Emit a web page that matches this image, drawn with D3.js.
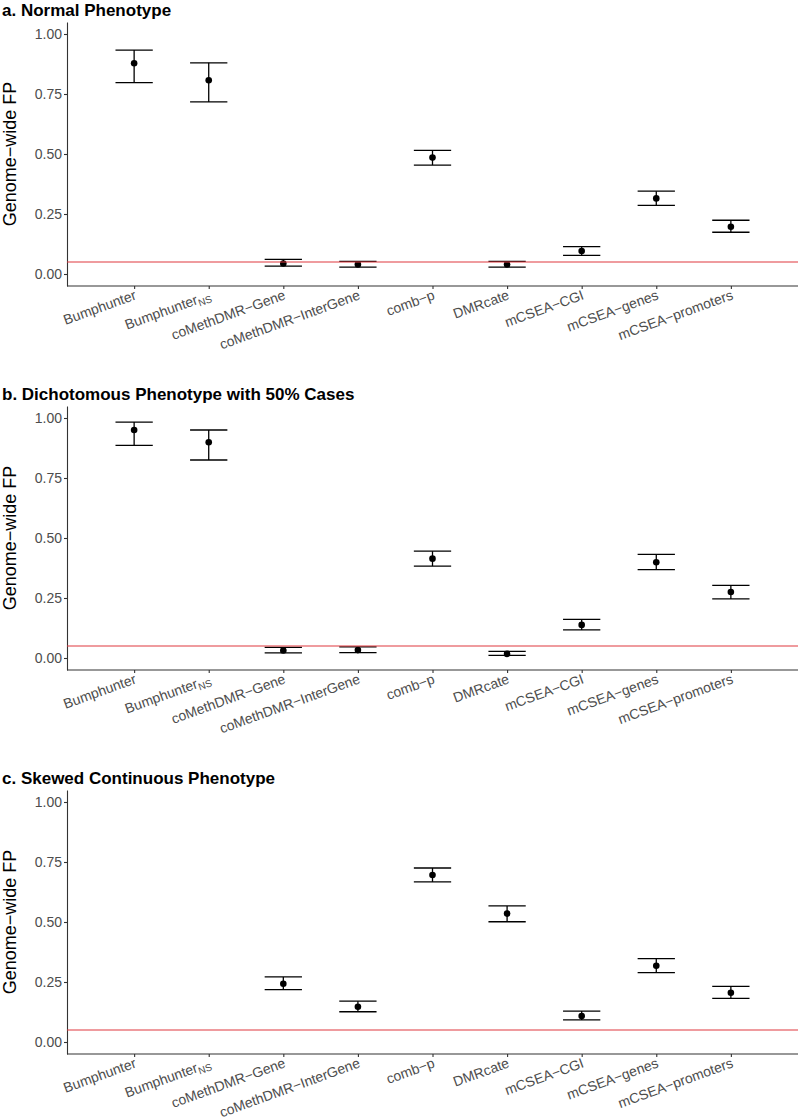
<!DOCTYPE html>
<html><head><meta charset="utf-8">
<script src="https://cdn.jsdelivr.net/npm/d3@7"></script>
<style>body{margin:0;background:#fff}svg{display:block}text{font-family:"Liberation Sans",Arial,sans-serif}</style>
</head><body>
<svg id="c" width="800" height="1119"></svg>
<script>
const categories = ["Bumphunter","BumphunterNS","coMethDMR\u2212Gene","coMethDMR\u2212InterGene","comb\u2212p","DMRcate","mCSEA\u2212CGI","mCSEA\u2212genes","mCSEA\u2212promoters"];
const yTicks = [0, 0.25, 0.5, 0.75, 1.0];
const titles = ["a. Normal Phenotype","b. Dichotomous Phenotype with 50% Cases","c. Skewed Continuous Phenotype"];
const threshold = 0.05;

const aMean = [0.878,0.807,0.044,0.040,0.485,0.040,0.096,0.315,0.197];
const aLow  = [0.797,0.717,0.033,0.029,0.454,0.029,0.078,0.286,0.174];
const aHigh = [0.933,0.880,0.061,0.053,0.515,0.053,0.114,0.345,0.224];

const bMean = [0.950,0.899,0.031,0.033,0.414,0.017,0.138,0.399,0.275];
const bLow  = [0.886,0.825,0.021,0.022,0.383,0.011,0.117,0.368,0.246];
const bHigh = [0.983,0.950,0.044,0.046,0.445,0.028,0.161,0.432,0.303];

const cMean = [null,null,0.243,0.147,0.696,0.535,0.108,0.318,0.205];
const cLow  = [null,null,0.218,0.126,0.667,0.501,0.092,0.289,0.182];
const cHigh = [null,null,0.271,0.170,0.725,0.567,0.129,0.347,0.232];

const panels = [[aMean,aLow,aHigh],[bMean,bLow,bHigh],[cMean,cLow,cHigh]];

const svg = d3.select("#c");
const left = 67, right = 798;
const x = d3.scalePoint().domain(categories).range([left, right]).padding(0.9);
const capHalf = x.step() * 0.25;

panels.forEach((p, pi) => {
  const off = pi * 384;
  const top = 22 + off, bottom = 286 + off;
  const y = d3.scaleLinear().domain([-0.05, 1.05]).range([bottom, top]);
  const g = svg.append("g");

  g.append("text").attr("x", 2).attr("y", 15.5 + off)
    .attr("font-size", 17).attr("font-weight", "bold").attr("fill", "#000")
    .text(titles[pi]);

  // y axis
  const ya = g.append("g").attr("transform", `translate(${left},0)`)
    .call(d3.axisLeft(y).tickValues(yTicks).tickFormat(d3.format(".2f")).tickSize(3).tickSizeOuter(0));
  ya.select(".domain").attr("stroke", "#333").attr("stroke-width", 1.1);
  ya.selectAll(".tick line").attr("stroke", "#333").attr("stroke-width", 1.1);
  ya.selectAll(".tick text").attr("font-size", 14).attr("fill", "#4d4d4d").attr("x", -5)
    .attr("font-family", "Liberation Sans, Arial, sans-serif");

  // x axis
  const xa = g.append("g").attr("transform", `translate(0,${bottom})`)
    .call(d3.axisBottom(x).tickSize(3).tickSizeOuter(0));
  xa.select(".domain").attr("stroke", "#333").attr("stroke-width", 1.1).attr("d", `M${left},0H${right}`);
  xa.selectAll(".tick line").attr("stroke", "#333").attr("stroke-width", 1.1);
  xa.selectAll(".tick text").remove();
  xa.selectAll(".tick").each(function(d) {
    const t = d3.select(this).append("text")
      .attr("transform", "translate(-1,3) rotate(-20)")
      .attr("text-anchor", "end").attr("dy", "0.75em")
      .attr("font-size", 14).attr("fill", "#4d4d4d")
      .attr("font-family", "Liberation Sans, Arial, sans-serif");
    if (d === "BumphunterNS") {
      t.append("tspan").text("Bumphunter");
      t.append("tspan").attr("font-size", 10).attr("dy", "0.3em").text("NS");
    } else t.text(d);
  });

  // y title
  g.append("text").attr("transform", `translate(16,${(top + bottom) / 2}) rotate(-90)`)
    .attr("text-anchor", "middle").attr("font-size", 18).attr("fill", "#000")
    .text("Genome\u2212wide FP");

  const [mean, low, high] = p;
  const idx = categories.map((c, i) => i).filter(i => mean[i] !== null);

  const eb = g.append("g").attr("stroke", "#000").attr("stroke-width", 1.3).attr("fill", "none");
  idx.forEach(i => {
    const cx = x(categories[i]);
    eb.append("line").attr("x1", cx).attr("x2", cx).attr("y1", y(low[i])).attr("y2", y(high[i]));
    eb.append("line").attr("x1", cx - capHalf).attr("x2", cx + capHalf).attr("y1", y(low[i])).attr("y2", y(low[i]));
    eb.append("line").attr("x1", cx - capHalf).attr("x2", cx + capHalf).attr("y1", y(high[i])).attr("y2", y(high[i]));
  });
  g.append("g").selectAll("circle").data(idx).join("circle")
    .attr("cx", i => x(categories[i])).attr("cy", i => y(mean[i])).attr("r", 3.3).attr("fill", "#000");

  g.append("line").attr("x1", left).attr("x2", right).attr("y1", y(threshold)).attr("y2", y(threshold))
    .attr("stroke", "#e0393e").attr("stroke-width", 1.2);
});
</script>
</body></html>
